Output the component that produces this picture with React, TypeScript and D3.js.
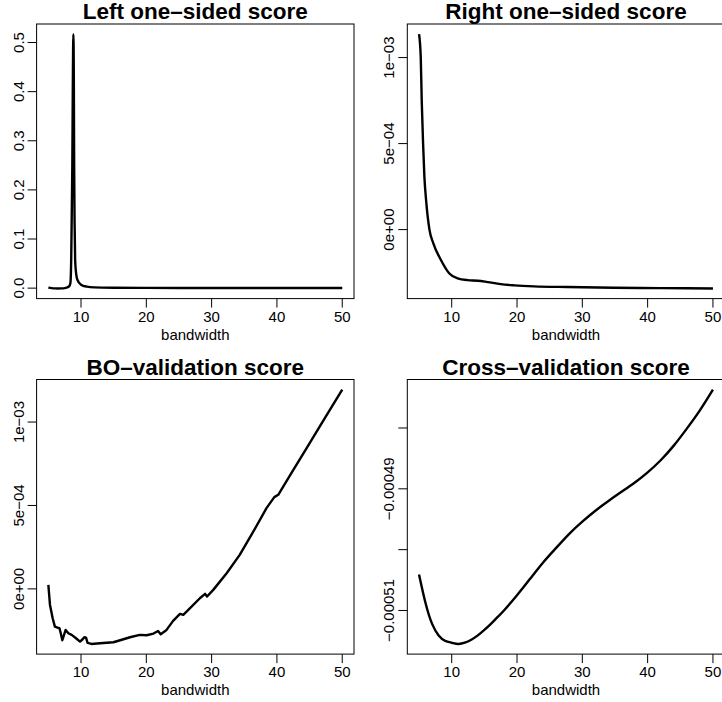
import React from 'react';
import * as d3 from 'd3';

// x ticks shared by every panel
const xTicks = [10, 20, 30, 40, 50];

// Left one-sided score
const bwLeft = [5, 5.5, 6, 6.5, 7, 7.5, 7.8, 8.2, 8.37, 8.5, 8.6, 8.67, 8.75, 8.83, 8.9, 8.95, 9.02, 9.1, 9.25, 9.44, 10, 10.9, 12, 15, 20, 25, 30, 35, 40, 45, 50];
const scoreLeft = [0.001, 0.0, -0.0005, -0.0006, -0.0005, 0.0, 0.001, 0.004, 0.01, 0.06, 0.17, 0.25, 0.42, 0.517, 0.43, 0.25, 0.13, 0.058, 0.03, 0.017, 0.007, 0.003, 0.0015, 0.0008, 0.0005, 0.0004, 0.0004, 0.0003, 0.0003, 0.0003, 0.0003];
const yTicksLeft = [0, 0.1, 0.2, 0.3, 0.4, 0.5];
const yLabelsLeft = ['0.0', '0.1', '0.2', '0.3', '0.4', '0.5'];

// Right one-sided score
const bwRight = [5, 5.26, 5.41, 5.62, 5.82, 6.08, 6.59, 7.2, 8.37, 9.64, 10.9, 12.45, 14, 15.5, 17.5, 19.6, 22.6, 27.7, 34.9, 42, 50];
const scoreRight = [1.136e-3, 1.0e-3, 7.49e-4, 4.98e-4, 3.05e-4, 1.7e-4, 0, -8.1e-5, -1.78e-4, -2.55e-4, -2.84e-4, -2.94e-4, -2.97e-4, -3.05e-4, -3.17e-4, -3.24e-4, -3.3e-4, -3.34e-4, -3.38e-4, -3.4e-4, -3.42e-4];
const yTicksSci = [0, 5e-4, 1e-3];
const yLabelsSci = ['0e+00', '5e\u221204', '1e\u221203'];

// BO-validation score
const bwBO = [5, 5.25, 5.66, 6.0, 6.4, 6.7, 6.9, 7.14, 7.4, 7.65, 8.06, 8.57, 9.23, 9.85, 10.25, 10.5, 10.77, 11.0, 11.6, 12.9, 14.95, 16, 17.5, 19, 20.05, 21.1, 21.8, 22.2, 23.1, 24.1, 25.15, 25.66, 26.7, 28.2, 29, 29.3, 30.25, 32.3, 34.3, 36.4, 38.4, 39.6, 40.2, 42, 44.5, 47.1, 50];
const scoreBO = [2.4e-5, -9.6e-5, -1.76e-4, -2.26e-4, -2.32e-4, -2.36e-4, -2.66e-4, -3.08e-4, -2.76e-4, -2.46e-4, -2.66e-4, -2.76e-4, -2.96e-4, -3.16e-4, -3.02e-4, -2.9e-4, -2.92e-4, -3.24e-4, -3.3e-4, -3.26e-4, -3.2e-4, -3.08e-4, -2.9e-4, -2.76e-4, -2.78e-4, -2.68e-4, -2.52e-4, -2.72e-4, -2.46e-4, -1.92e-4, -1.5e-4, -1.56e-4, -1.16e-4, -5.6e-5, -3.0e-5, -4.6e-5, -6e-6, 9.4e-5, 2.04e-4, 3.44e-4, 4.84e-4, 5.5e-4, 5.64e-4, 6.8e-4, 8.4e-4, 1.008e-3, 1.194e-3];

// Cross-validation score
const bwCV = [5, 6, 7, 8, 9, 10, 11, 12, 13, 14, 15, 16, 17, 18, 20, 22, 24, 26, 28, 30, 32, 34, 36, 38, 40, 42, 44, 46, 48, 50];
const scoreCV = [-0.0005041, -0.0005088, -0.0005122, -0.0005141, -0.000515, -0.0005153, -0.0005155, -0.0005153, -0.0005148, -0.0005141, -0.0005132, -0.0005122, -0.0005111, -0.00051, -0.0005075, -0.0005048, -0.0005021, -0.0004997, -0.0004974, -0.0004954, -0.0004936, -0.000492, -0.0004905, -0.000489, -0.0004873, -0.0004853, -0.0004829, -0.0004801, -0.0004771, -0.0004737];
const yTicksCV = [-0.00051, -0.0005, -0.00049, -0.00048];
const yLabelsCV = ['\u22120.00051', '', '\u22120.00049', ''];

const W = 317.4;
const H = 274.6;
const colX = [36.6, 407.3];
const rowY = [24, 379.5];
const font = '"Liberation Sans", Arial, Helvetica, sans-serif';

function Panel({ title, xs, ys, yTicks, yLabels, left, top, curve }: any) {
  const [xmin, xmax] = d3.extent(xs) as [number, number];
  const [ymin, ymax] = d3.extent(ys) as [number, number];
  const xp = (xmax - xmin) * 0.04;
  const yp = (ymax - ymin) * 0.04;
  const x = d3.scaleLinear().domain([xmin - xp, xmax + xp]).range([left, left + W]);
  const y = d3.scaleLinear().domain([ymin - yp, ymax + yp]).range([top + H, top]);
  const line = d3.line<number>()
    .x((d, i) => x(xs[i]))
    .y((d) => y(d))
    .curve(curve);
  const bottom = top + H;
  return (
    <g fontFamily={font}>
      <text x={left + W / 2} y={top - 5} textAnchor="middle" fontSize={22.5} fontWeight="bold">{title}</text>
      <rect x={left} y={top} width={W} height={H} fill="none" stroke="#000" strokeWidth={1} />
      <path d={line(ys) || ''} fill="none" stroke="#000" strokeWidth={2.4} strokeLinejoin="round" />
      {xTicks.map((t) => (
        <g key={'x' + t}>
          <line x1={x(t)} x2={x(t)} y1={bottom} y2={bottom + 9} stroke="#000" />
          <text x={x(t)} y={bottom + 23} textAnchor="middle" fontSize={15}>{t}</text>
        </g>
      ))}
      <text x={left + W / 2} y={bottom + 41} textAnchor="middle" fontSize={15}>bandwidth</text>
      {yTicks.map((t: number, i: number) => (
        <g key={'y' + i}>
          <line x1={left - 9} x2={left} y1={y(t)} y2={y(t)} stroke="#000" />
          <text transform={`translate(${left - 13},${y(t)}) rotate(-90)`} textAnchor="middle" fontSize={15}>{yLabels[i]}</text>
        </g>
      ))}
    </g>
  );
}

export default function App() {
  return (
    <div style={{ position: 'absolute', left: 0, top: 0 }}>
      <svg width={722} height={702} style={{ display: 'block', background: '#fff' }}>
        <Panel title="Left one–sided score" xs={bwLeft} ys={scoreLeft} yTicks={yTicksLeft} yLabels={yLabelsLeft}
          left={colX[0]} top={rowY[0]} curve={d3.curveMonotoneX} />
        <Panel title="Right one–sided score" xs={bwRight} ys={scoreRight} yTicks={yTicksSci} yLabels={yLabelsSci}
          left={colX[1]} top={rowY[0]} curve={d3.curveMonotoneX} />
        <Panel title="BO–validation score" xs={bwBO} ys={scoreBO} yTicks={yTicksSci} yLabels={yLabelsSci}
          left={colX[0]} top={rowY[1]} curve={d3.curveLinear} />
        <Panel title="Cross–validation score" xs={bwCV} ys={scoreCV} yTicks={yTicksCV} yLabels={yLabelsCV}
          left={colX[1]} top={rowY[1]} curve={d3.curveNatural} />
      </svg>
    </div>
  );
}
